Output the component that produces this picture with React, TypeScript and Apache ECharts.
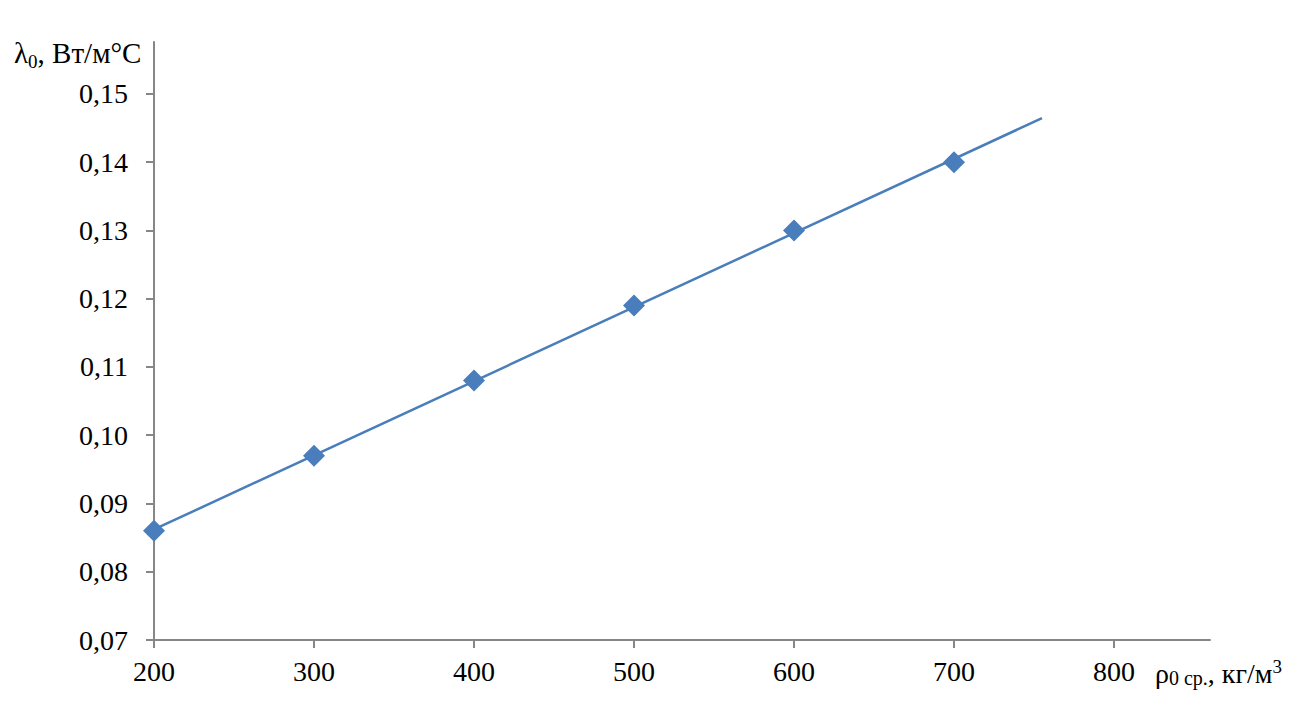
import React, { useEffect, useRef } from "react";
import * as echarts from "echarts";

const densities = [200, 300, 400, 500, 600, 700];
const conductivity = [0.086, 0.097, 0.108, 0.119, 0.13, 0.14];
const xTicks = [200, 300, 400, 500, 600, 700, 800];
const yTicks = [0.07, 0.08, 0.09, 0.1, 0.11, 0.12, 0.13, 0.14, 0.15];
const TREND_END = 755;

// axis titles split into pieces: [text, font size, baseline shift]
const yTitleParts: [string, number, number][] = [
  ["λ", 29, 0],
  ["0", 19, 5],
  [", Вт/м°С", 29, 0],
];
const xTitleParts: [string, number, number][] = [
  ["ρ", 28, 0],
  ["0 ср.", 20, 2],
  [", кг/м", 28, 0],
  ["3", 19, -10],
];

function linearFit(xs: number[], ys: number[]) {
  const n = xs.length;
  const mx = xs.reduce((a, b) => a + b, 0) / n;
  const my = ys.reduce((a, b) => a + b, 0) / n;
  let sxy = 0;
  let sxx = 0;
  for (let i = 0; i < n; i++) {
    sxy += (xs[i] - mx) * (ys[i] - my);
    sxx += (xs[i] - mx) * (xs[i] - mx);
  }
  const slope = sxy / sxx;
  return { slope, intercept: my - slope * mx };
}

const FONT = "'Liberation Serif', 'Times New Roman', serif";

function buildTitle(parts: [string, number, number][], x0: number, baseline: number) {
  const canvas = document.createElement("canvas");
  const ctx = canvas.getContext("2d");
  let x = x0;
  return parts.map(([text, size, dy]) => {
    const font = `${size}px ${FONT}`;
    let w = size * 0.5 * text.length;
    if (ctx) {
      ctx.font = font;
      w = ctx.measureText(text).width;
    }
    const el = {
      type: "text",
      x,
      y: baseline + dy - 0.3375 * size,
      silent: true,
      style: {
        text,
        font,
        fill: "#000",
        align: "left",
        verticalAlign: "middle",
      },
    };
    x += w;
    return el;
  });
}

export default function App() {
  const ref = useRef<HTMLDivElement>(null);
  useEffect(() => {
    if (!ref.current) return;
    const chart = echarts.init(ref.current, null, { renderer: "svg" });
    const fit = linearFit(densities, conductivity);
    const trend = [densities[0], TREND_END].map((x) => [x, fit.intercept + fit.slope * x]);
    const axisColor = "#868686";
    chart.setOption({
      animation: false,
      backgroundColor: "#ffffff",
      grid: { left: 154, top: 42, right: 94, bottom: 68 },
      xAxis: {
        type: "value",
        min: 200,
        max: 860,
        interval: 100,
        splitLine: { show: false },
        axisLine: { lineStyle: { color: axisColor, width: 2 } },
        axisTick: { show: true, length: 8, customValues: xTicks, lineStyle: { color: axisColor, width: 2 } },
        axisLabel: {
          customValues: xTicks,
          margin: 17,
          color: "#000",
          fontFamily: FONT,
          fontSize: 28,
        },
      },
      yAxis: {
        type: "value",
        min: 0.07,
        max: 0.1576,
        interval: 0.01,
        splitLine: { show: false },
        axisLine: { show: true, lineStyle: { color: axisColor, width: 2 } },
        axisTick: { show: true, length: 8, customValues: yTicks, lineStyle: { color: axisColor, width: 2 } },
        axisLabel: {
          customValues: yTicks,
          margin: 26,
          color: "#000",
          fontFamily: FONT,
          fontSize: 28,
          formatter: (v: number) => v.toFixed(2).replace(".", ","),
        },
      },
      series: [
        {
          type: "line",
          data: trend,
          showSymbol: false,
          lineStyle: { color: "#4A7EBB", width: 2.5 },
          silent: true,
          z: 2,
        },
        {
          type: "scatter",
          data: densities.map((x, i) => [x, conductivity[i]]),
          symbol: "diamond",
          symbolSize: 22,
          itemStyle: { color: "#4A7DBC", opacity: 1 },
          z: 3,
        },
      ],
      graphic: [...buildTitle(yTitleParts, 14, 63), ...buildTitle(xTitleParts, 1155, 683)],
    });
    return () => chart.dispose();
  }, []);
  return (
    <div
      ref={ref}
      style={{ position: "fixed", left: 0, top: 0, width: 1304, height: 708 }}
    />
  );
}
